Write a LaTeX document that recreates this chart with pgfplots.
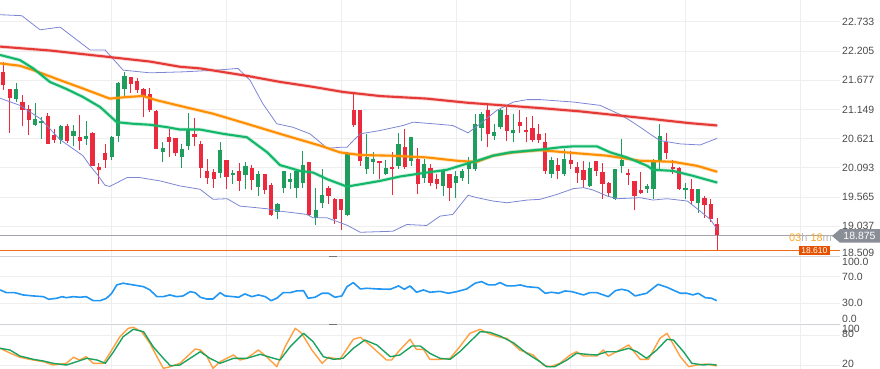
\documentclass[border=0pt]{standalone}
\usepackage{fontspec}
\setmainfont{Liberation Sans}
\usepackage{pgfplots}
\usepackage{pgfplotstable}
\usetikzlibrary{calc}
\pgfplotsset{compat=1.18}
\definecolor{cRed}{HTML}{EB2B3D}
\definecolor{cGreen}{HTML}{1F9D5D}
\definecolor{cMAred}{HTML}{E53935}
\definecolor{cMAorange}{HTML}{FF8F00}
\definecolor{cMAgreen}{HTML}{12B76A}
\definecolor{cBB}{HTML}{7C86D4}
\definecolor{cRSI}{HTML}{2196F3}
\definecolor{cStK}{HTML}{FFA040}
\definecolor{cStD}{HTML}{1AA260}
\definecolor{cGrid}{HTML}{EEEEEE}
\definecolor{cTick}{HTML}{4A4A4A}
\definecolor{cSep}{HTML}{D0D3D8}
\definecolor{cGrayBox}{HTML}{8A8E96}
\definecolor{cOrangeBox}{HTML}{E65100}
\definecolor{cOrangeLine}{HTML}{F26B1D}
\definecolor{cCount}{HTML}{FFA726}

\pgfplotstableread{
i o h l c
0 21.828 22.010 21.508 21.586
1 21.513 21.513 20.730 21.349
3 21.282 21.404 20.845 21.131
4 21.162 21.222 20.694 20.949
7 21.022 21.076 20.521 20.530
8 20.694 20.803 20.548 20.603
10 20.840 20.876 20.548 20.585
12 20.645 21.040 20.415 20.585
14 20.730 20.749 20.120 20.129
15 20.111 20.184 19.802 20.062
16 20.366 20.525 20.098 20.233
20 21.726 21.732 21.441 21.617
21 21.659 21.714 21.441 21.495
22 21.513 21.532 21.009 21.373
23 21.435 21.532 21.094 21.131
24 21.118 21.131 20.430 20.433
26 20.645 20.803 20.281 20.566
27 20.627 20.639 20.299 20.353
30 20.707 20.998 20.494 20.645
31 20.525 20.585 19.916 20.098
32 20.038 20.257 19.807 19.905
33 20.020 20.075 19.734 19.887
35 20.233 20.239 19.705 19.934
37 20.026 20.171 19.674 19.856
39 20.098 20.148 19.687 19.874
41 19.989 19.989 19.614 19.687
42 19.778 19.825 19.219 19.232
48 20.202 20.202 19.219 19.232
51 19.723 19.765 19.438 19.583
52 19.534 19.552 19.079 19.159
53 19.534 19.534 18.964 19.328
55 21.131 21.435 20.827 20.871
56 21.131 21.131 20.129 20.220
59 20.208 20.220 19.887 20.171
61 20.111 20.372 19.601 20.070
63 20.475 20.798 20.070 20.111
65 20.251 20.457 19.614 19.796
67 20.087 20.160 19.765 19.825
68 19.887 19.978 19.705 19.807
70 19.978 19.978 19.492 19.734
76 21.144 21.222 20.463 20.707
79 21.040 21.191 20.585 20.767
81 20.912 21.131 20.730 20.840
82 20.780 21.009 20.566 20.736
83 20.816 21.022 20.566 20.597
84 20.707 20.876 20.548 20.597
85 20.566 20.725 19.978 20.038
87 20.142 20.262 19.887 20.038
89 20.239 20.402 20.070 20.160
90 20.111 20.189 19.825 20.007
91 20.051 20.220 19.734 19.869
93 20.220 20.220 19.947 20.038
94 20.020 20.179 19.534 19.807
95 19.814 19.838 19.570 19.643
98 19.996 20.070 19.789 19.960
99 19.856 19.856 19.328 19.583
100 19.692 20.020 19.614 19.643
104 20.554 20.725 20.251 20.361
105 20.106 20.239 19.978 20.070
106 20.098 20.111 19.692 19.705
108 19.716 19.898 19.443 19.492
110 19.552 19.583 19.188 19.414
111 19.432 19.523 19.115 19.159
112 19.079 19.188 18.610 18.875
}\redc

\pgfplotstableread{
i o h l c
2 21.331 21.623 21.277 21.526
5 20.858 21.258 20.840 20.967
6 20.903 21.003 20.621 20.931
9 20.603 20.858 20.530 20.840
11 20.663 20.858 20.481 20.767
13 20.616 20.931 20.506 20.676
17 20.281 20.676 20.233 20.645
18 20.676 21.641 20.554 21.628
19 21.526 21.823 21.373 21.750
25 20.372 20.554 20.189 20.444
28 20.281 20.530 20.098 20.433
29 20.494 21.076 20.421 20.798
34 20.007 20.554 19.916 20.415
36 19.960 20.051 19.796 20.007
38 19.966 20.189 19.705 20.129
40 19.747 20.038 19.583 19.989
43 19.297 19.461 19.159 19.443
44 19.734 20.038 19.643 20.026
45 19.843 20.002 19.711 19.898
46 19.734 20.057 19.552 20.038
47 19.825 20.402 19.734 20.142
49 19.177 19.734 19.055 19.323
50 19.461 20.070 19.370 19.596
54 19.232 20.372 19.219 20.342
57 20.070 20.707 19.978 20.293
58 20.189 20.372 19.989 20.251
60 19.978 20.233 19.966 20.098
62 20.129 20.718 20.070 20.525
64 20.220 20.658 20.129 20.645
66 19.916 20.251 19.825 20.160
69 19.765 20.070 19.583 20.038
71 19.825 20.038 19.552 19.947
72 19.905 20.070 19.856 20.026
73 20.070 20.281 19.796 20.189
74 20.070 21.071 20.038 20.889
75 20.816 21.100 20.585 21.071
77 20.676 20.889 20.597 20.749
78 20.827 21.180 20.798 21.131
80 20.725 21.071 20.566 20.780
86 19.978 20.281 19.916 20.239
88 19.978 20.433 19.947 20.251
92 19.765 20.202 19.752 20.087
96 19.534 20.080 19.510 20.070
97 20.129 20.616 20.007 20.233
101 19.716 19.796 19.643 19.765
102 19.716 20.251 19.534 20.202
103 20.202 20.889 20.070 20.676
107 19.687 19.825 19.534 19.723
109 19.461 19.716 19.279 19.705
}\greenc

\pgfplotsset{
  panel/.style={
    scale only axis, width=840pt, xmin=-0.518, xmax=131.24,
    axis line style={draw=none}, major tick length=0pt,
    xtick={17,35,53,71,89,107,125}, xticklabels={},
    xmajorgrids, ymajorgrids,
    grid style={draw=cGrid, line width=0.7pt},
    ytick pos=right, yticklabel pos=right,
    yticklabel style={anchor=west, inner sep=0pt, xshift=2pt,
      font=\fontsize{10.5}{12}\selectfont, text=cTick},
    clip mode=individual,
  },
}

\begin{document}
\begin{tikzpicture}[x=1pt,y=1pt]
\path[use as bounding box] (0,0) rectangle (880,-369);

% ---------------- price panel ----------------
\begin{axis}[panel, at={(0pt,0pt)}, anchor=north west, height=256pt,
  ymin=18.498, ymax=23.127,
  ytick={19.037,19.565,20.093,20.621,21.149,21.677,22.205,22.733},
  yticklabels={19.037,19.565,20.093,20.621,21.149,21.677,22.205,22.733},
  extra y ticks={18.56}, extra y tick labels={18.509},
  extra y tick style={ymajorgrids=false}]

% reference lines
\addplot[draw=cGrayBox!80, line width=0.8pt, forget plot] coordinates {(-0.518,18.875) (131.24,18.875)};
\addplot[draw=cOrangeLine, line width=1.6pt, forget plot] coordinates {(-0.518,18.600) (131.24,18.600)};

% wicks
\addplot[draw=none, forget plot, error bars/.cd, y dir=plus, y explicit, error mark=none,
  error bar style={line width=1pt, draw=cRed}]
  table[x=i, y=l, y error plus expr={\thisrow{h}-\thisrow{l}}] {\redc};
\addplot[draw=none, forget plot, error bars/.cd, y dir=plus, y explicit, error mark=none,
  error bar style={line width=1pt, draw=cGreen}]
  table[x=i, y=l, y error plus expr={\thisrow{h}-\thisrow{l}}] {\greenc};
% bodies
\addplot[draw=none, forget plot, error bars/.cd, y dir=plus, y explicit, error mark=none,
  error bar style={line width=4.3pt, draw=cRed}]
  table[x=i, y=c, y error plus expr={\thisrow{o}-\thisrow{c}}] {\redc};
\addplot[draw=none, forget plot, error bars/.cd, y dir=plus, y explicit, error mark=none,
  error bar style={line width=4.3pt, draw=cGreen}]
  table[x=i, y=o, y error plus expr={\thisrow{c}-\thisrow{o}}] {\greenc};

% Bollinger bands
\addplot[cBB, line width=0.8pt] coordinates {(-0.5,22.861) (2.9,22.843) (5.76,22.588) (8.9,22.637) (13.6,22.224) (15.95,22.224) (18.8,21.859) (23,21.810) (28.2,21.828) (33.5,21.859) (36.8,21.890) (38.7,21.677) (40.7,21.253) (42.9,20.889) (45.4,20.827) (48.1,20.707) (49.7,20.554) (50.8,20.445) (52.8,20.463) (53.9,20.463) (54.9,20.585) (56,20.707) (59.1,20.767) (62.7,20.858) (64.3,20.918) (67.4,20.889) (70.5,20.858) (72.9,20.725) (74.8,20.889) (77.4,21.131) (80,21.282) (82.2,21.326) (84.2,21.326) (89.4,21.282) (93.6,21.222) (96.8,21.053) (98.3,20.949) (99.9,20.827) (101.4,20.707) (103,20.585) (106.2,20.525) (109.3,20.506) (112,20.627)};
\addplot[cBB, line width=0.8pt] coordinates {(-0.5,21.350) (2.6,21.222) (5.76,20.985) (8.9,20.603) (12.5,20.311) (13.6,20.130) (14.7,19.978) (15.95,19.778) (16.7,19.756) (19.4,19.916) (21.4,19.916) (24.6,19.856) (27.7,19.765) (30.85,19.705) (32.9,19.523) (35.1,19.534) (37.1,19.401) (41.4,19.352) (43.4,19.310) (47.6,19.250) (48.6,19.188) (50.8,19.188) (53.9,19.055) (56,18.927) (61.1,18.946) (63.3,19.068) (66.4,19.050) (68.5,19.219) (70.5,19.250) (72.9,19.596) (74.3,19.553) (76.8,19.492) (79,19.461) (82.2,19.510) (84.2,19.523) (86.9,19.614) (89.4,19.716) (91,19.734) (92.5,19.692) (94.7,19.583) (96.3,19.534) (99.9,19.552) (101.9,19.510) (104.1,19.534) (107.3,19.492) (109.3,19.310) (110.9,19.159) (112,18.977)};

% moving averages (soft halo + core)
\pgfplotstableread{
x y
-0.5 22.284
7.3 22.214
15.2 22.114
23 22.014
27.7 21.920
30.9 21.890
38.2 21.756
43.4 21.646
48.6 21.556
53.3 21.464
56 21.430
59.1 21.390
66.4 21.344
72.7 21.270
76.8 21.235
84.2 21.173
90.5 21.113
99.9 20.998
107.7 20.900
112 20.858
}\mared
\pgfplotstableread{
x y
-0.5 21.981
2.6 21.938
4.7 21.859
8.9 21.677
12.5 21.526
16.7 21.344
19.4 21.373
21.9 21.391
24.1 21.313
27.7 21.213
32.9 21.071
38.2 20.889
43.4 20.707
47 20.585
49.7 20.494
52.8 20.372
56 20.324
60.8 20.312
66.4 20.281
71.6 20.215
74.3 20.202
76.8 20.312
80 20.372
84.2 20.412
89.4 20.361
94.7 20.312
99.9 20.220
105 20.202
108.8 20.129
112 20.020
}\maorange
\pgfplotstableread{
x y
-0.5 22.133
2.6 22.041
4.7 21.890
7.3 21.646
10 21.513
12.5 21.373
15.2 21.191
17.8 20.918
20.35 20.889
23 20.871
25.7 20.827
27.7 20.785
30.85 20.785
34.5 20.707
38.2 20.645
41.4 20.372
43.4 20.142
46.5 20.038
48.6 20.007
50.8 19.887
53.9 19.753
56.4 19.802
59.1 19.856
62.2 19.935
66.4 20.007
69.6 20.057
71.6 20.129
74.3 20.220
76.8 20.312
79.5 20.372
84.2 20.421
87.3 20.463
89.4 20.481
93.1 20.481
95.2 20.372
97.8 20.281
101 20.129
101.9 20.057
105 20.038
108.2 19.947
112 19.825
}\magreen
\addplot[cMAred, line width=3.8pt, opacity=0.22, line join=round] table[x=x,y=y] {\mared};
\addplot[cMAred, line width=2.1pt, line join=round] table[x=x,y=y] {\mared};
\addplot[cMAorange, line width=3.8pt, opacity=0.22, line join=round] table[x=x,y=y] {\maorange};
\addplot[cMAorange, line width=2.1pt, line join=round] table[x=x,y=y] {\maorange};
\addplot[cMAgreen, line width=3.8pt, opacity=0.22, line join=round] table[x=x,y=y] {\magreen};
\addplot[cMAgreen, line width=2.1pt, line join=round] table[x=x,y=y] {\magreen};

% price labels
\coordinate (g) at (axis cs:131.24,18.860);
\coordinate (o) at (axis cs:129.68,18.595);
\node[anchor=east, text=cCount, inner sep=0pt, font=\fontsize{11}{12}\selectfont] at (axis cs:130.0,18.840) {03\textcolor{cTick!40}{h} 18\textcolor{cTick!40}{m}};
\end{axis}

\fill[cGrayBox] (g) ++(-8,0) -- ++(8,6.75) -- ++(40,0) -- ++(0,-13.5) -- ++(-40,0) -- cycle;
\node[text=white, font=\fontsize{10.5}{12}\selectfont, inner sep=0pt] at ($(g)+(19.5,0)$) {18.875};
\node[fill=cOrangeBox, text=white, anchor=east, inner sep=0pt, minimum height=9.5pt, minimum width=31pt, font=\fontsize{8.5}{9}\selectfont] at (o) {18.610};

% ---------------- RSI panel ----------------
\begin{axis}[panel, at={(0pt,-256.7pt)}, anchor=north west, height=66.6pt,
  ymin=0, ymax=100, ytick={30,70}, yticklabels={30.0,70.0},
  extra y ticks={7,91.7}, extra y tick labels={0.0,100.0},
  extra y tick style={ymajorgrids=false}]
\addplot[cRSI, line width=1.6pt, line join=round] coordinates {(-0.5,50.1) (0.5,46) (1.8,46) (3.1,42.6) (4.7,41.1) (6.3,40) (7.1,36.1) (8.4,37.6) (9.2,40) (9.9,38.5) (11,40) (12,39.1) (13,40) (14.1,34) (15.2,34) (16.2,37.6) (17,45.1) (17.8,57.6) (18.8,60.2) (20.4,57.6) (22,55) (23,50.1) (24.1,40) (25.1,40) (26.1,42.6) (27.2,40) (28.2,41.1) (29.3,47.5) (30.1,46) (30.9,39.1) (31.9,36.5) (32.9,36.5) (34,46) (34.8,41.1) (36.1,40) (36.9,39.1) (37.9,44.1) (39,40) (40,42.6) (41.1,40) (42,34) (42.9,37.6) (43.9,46) (45,46) (46,48.6) (47.1,49) (47.8,37.6) (48.9,39.1) (50,45.1) (51,45.1) (52,39.1) (53.1,41.1) (53.9,55) (54.9,61.1) (56,51.6) (57,52.6) (58.6,51.6) (60.7,51.1) (62,56.1) (62.9,51.1) (63.8,56.1) (64.8,46.6) (65.9,50.1) (66.9,46.6) (68.5,48) (69.8,45.1) (71.1,47.5) (72.7,51.6) (74,60.2) (75,62.6) (76.1,57.6) (77.1,57.6) (77.9,61.1) (79,56.1) (80,56.1) (81.1,57.6) (82.1,55) (83.9,53.5) (85,45.1) (86,46.6) (87.1,45.1) (88.1,48.6) (89.2,47.5) (91,42.6) (92,46) (93.1,46) (94.9,40) (96,49) (97,51.1) (98,49) (99.1,41.1) (100.9,45.1) (102.7,58.6) (104.1,54.1) (106.2,45.1) (107.2,45.1) (108.2,42.6) (109,45.1) (110.1,38.5) (111.1,37.6) (111.9,34)};
\end{axis}

% ---------------- Stochastic panel ----------------
\begin{axis}[panel, at={(0pt,-325pt)}, anchor=north west, height=44pt,
  ymin=12, ymax=100, ytick={20,80}, yticklabels={20,80},
  yticklabel style={yshift=1.5pt},
  extra y ticks={88.5}, extra y tick labels={100},
  extra y tick style={ymajorgrids=false}]
\addplot[cStK, line width=1.4pt, line join=round] coordinates {(-0.5,53.4) (1.05,44) (2.6,35.4) (4.7,30) (6.3,26.6) (7.8,20) (9.9,23.4) (11,35.4) (12,30) (13,36.6) (14.1,23.4) (15.7,23.4) (16.7,43.4) (18.3,76.6) (19.6,93.4) (20.4,95.4) (21.7,86.6) (23,63.4) (24.1,36.6) (25.1,13.4) (26.2,16.6) (27.7,23.4) (28.8,36.6) (30.1,52) (30.9,50) (31.9,38) (32.9,13.4) (34,26.6) (36.1,40) (37.1,30) (38.2,33.4) (40,50) (41.3,36.6) (42.9,16.6) (44.2,56.6) (45.8,93.4) (46.8,83.4) (48.4,50) (50,23.4) (51,35.4) (52.8,31.4) (54.9,71.4) (56,75.4) (57.5,60) (60.1,30) (60.9,30) (62.2,50) (63.8,71.4) (64.8,51.4) (65.9,51.4) (66.9,31.4) (68.5,31.4) (70.1,33.4) (71.6,56.6) (73.2,83.4) (74.8,91.4) (76.3,82) (77.9,75.4) (79,73.4) (81,50) (83.1,40) (84.7,20) (85.8,16.6) (87.3,23.4) (88.9,40) (89.9,46.6) (91,38) (93.1,38) (94.1,50) (94.9,38) (96.2,46.6) (98.1,60) (99.9,31.4) (101.2,31.4) (103,73.4) (104.1,83.4) (106.2,36.6) (107.5,16.6) (108.8,20) (110.3,22) (111.9,18)};
\addplot[cStD, line width=1.4pt, line join=round] coordinates {(-0.5,53.4) (1.05,50) (2.6,38) (4.7,31.4) (6.3,28) (7.8,23.4) (9.9,20) (11.5,26.6) (13.1,33.4) (14.7,30) (16,23.4) (17.3,46.6) (18.8,76.6) (20.4,91.4) (22,86.6) (23.5,56.6) (25.1,33.4) (26.2,18.6) (27.7,20) (29.3,33.4) (30.9,46.6) (32.4,33.4) (34,23.4) (36.1,33.4) (38.2,33.4) (40.3,41.4) (42.4,33.4) (43.4,30) (45,56.6) (47.1,83.4) (48.6,66.6) (50.2,36.6) (51.8,31.4) (53.3,33.4) (54.9,53.4) (56.7,70) (58.6,60) (60.7,36.6) (62.2,40) (64.1,58) (65.4,58) (66.9,43.4) (68.5,33.4) (70.1,31.4) (71.6,46.6) (73.2,66.6) (74.8,86.6) (76.3,85.4) (77.9,78) (80,64.6) (82.1,43.4) (84.2,26.6) (85.2,16.6) (86.5,16.6) (88.4,30) (89.9,43.4) (91.5,41.4) (93.1,40) (94.7,46.6) (96.2,46.6) (98.1,53.4) (99.4,46.6) (100.9,33.4) (102.5,50) (104.1,71.4) (105.1,70) (106.7,46.6) (108,23.4) (109.8,20) (110.9,21.4) (111.9,20)};
\end{axis}

% panel separators and handles
\draw[cSep, line width=1pt] (0,-256) -- (840,-256);
\draw[cSep, line width=1pt] (0,-324.3) -- (840,-324.3);
\draw[black!55, line width=1.2pt] (329,-256.6) -- (337,-256.6);
\draw[black!55, line width=1.2pt] (329,-324.6) -- (337,-324.6);
\end{tikzpicture}
\end{document}
